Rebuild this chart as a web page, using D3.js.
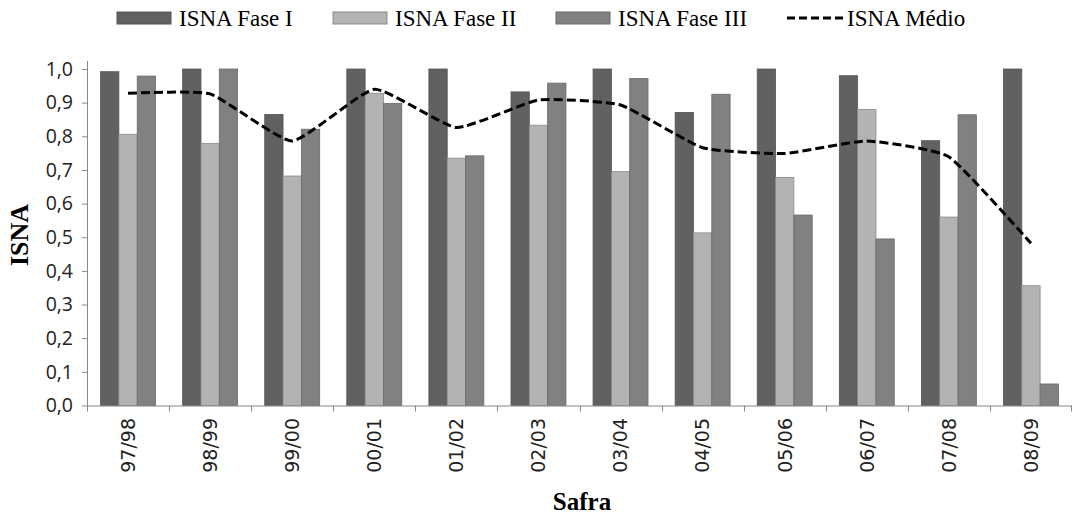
<!DOCTYPE html>
<html>
<head>
<meta charset="utf-8">
<script src="https://cdn.jsdelivr.net/npm/d3@7"></script>
<style>
  body { margin: 0; background: #fff; }
  svg { display: block; }
</style>
</head>
<body>
<svg id="chart" width="1072" height="516"></svg>
<script>
const safras = ['97/98', '98/99', '99/00', '00/01', '01/02', '02/03', '03/04', '04/05', '05/06', '06/07', '07/08', '08/09'];
const faseI = [0.992, 1.0, 0.865, 1.0, 1.0, 0.932, 1.0, 0.871, 1.0, 0.980, 0.787, 1.0];
const faseII = [0.806, 0.779, 0.682, 0.928, 0.735, 0.833, 0.695, 0.513, 0.678, 0.880, 0.560, 0.356];
const faseIII = [0.979, 1.0, 0.821, 0.898, 0.742, 0.958, 0.972, 0.925, 0.566, 0.495, 0.864, 0.064];
const medio = [0.928, 0.926, 0.786, 0.940, 0.826, 0.908, 0.893, 0.766, 0.749, 0.786, 0.739, 0.482];
const yTicks = [0, 0.1, 0.2, 0.3, 0.4, 0.5, 0.6, 0.7, 0.8, 0.9, 1.0];

const series = [
  { name: 'ISNA Fase I', values: faseI, fill: '#616161', stroke: '#555555' },
  { name: 'ISNA Fase II', values: faseII, fill: '#b3b3b3', stroke: '#8a8a8a' },
  { name: 'ISNA Fase III', values: faseIII, fill: '#818181', stroke: '#6a6a6a' }
];

const svg = d3.select('#chart');
const plotLeft = 87, plotRight = 1072, plotTop = 69, plotBottom = 405.5;
const axisColor = '#878787';

const x0 = d3.scaleBand().domain(safras).range([plotLeft, plotRight]);
const x1 = d3.scaleBand().domain(series.map(s => s.name))
  .range([0, x0.bandwidth()]).paddingOuter(0.74);
const y = d3.scaleLinear().domain([0, 1]).range([plotBottom, plotTop]);

// bars
const groups = svg.append('g').selectAll('g.safra').data(safras).join('g')
  .attr('class', 'safra')
  .attr('transform', d => `translate(${x0(d)},0)`);
groups.selectAll('rect')
  .data((d, i) => series.map(s => ({ s, v: s.values[i] })))
  .join('rect')
  .attr('x', d => x1(d.s.name))
  .attr('y', d => y(d.v))
  .attr('width', x1.bandwidth())
  .attr('height', d => y(0) - y(d.v))
  .attr('fill', d => d.s.fill)
  .attr('stroke', d => d.s.stroke)
  .attr('stroke-width', 0.8);

// y axis
const yAxis = svg.append('g')
  .attr('transform', `translate(${plotLeft},0)`)
  .call(d3.axisLeft(y).tickValues(yTicks).tickSize(5).tickPadding(9)
    .tickFormat(d => d3.format('.1f')(d).replace('.', ',')));
yAxis.select('.domain').attr('stroke', axisColor).attr('d', `M0.5,${plotTop - 8}V${plotBottom}`);
yAxis.selectAll('.tick line').attr('stroke', axisColor);
yAxis.selectAll('.tick text')
  .attr('fill', '#222')
  .style('font-family', '"Open Sans", sans-serif')
  .style('font-size', '19.5px');

// x axis
const xAxis = svg.append('g');
xAxis.append('line')
  .attr('x1', plotLeft).attr('x2', plotRight)
  .attr('y1', plotBottom + 0.5).attr('y2', plotBottom + 0.5)
  .attr('stroke', axisColor);
xAxis.selectAll('line.tk').data(safras.concat(['end'])).join('line')
  .attr('class', 'tk')
  .attr('x1', d => d === 'end' ? plotRight - 0.5 : Math.round(x0(d)) + 0.5)
  .attr('x2', d => d === 'end' ? plotRight - 0.5 : Math.round(x0(d)) + 0.5)
  .attr('y1', plotBottom).attr('y2', plotBottom + 6)
  .attr('stroke', axisColor);
xAxis.selectAll('text').data(safras).join('text')
  .attr('transform', d => `translate(${x0(d) + x0.bandwidth() / 2},418) rotate(-90)`)
  .attr('text-anchor', 'end')
  .attr('dy', '0.36em')
  .attr('fill', '#222')
  .style('font-family', '"DejaVu Sans", sans-serif')
  .style('font-size', '19px')
  .text(d => d);

// mean line
const line = d3.line()
  .x((d, i) => x0(safras[i]) + x0.bandwidth() / 2)
  .y(d => y(d))
  .curve(d3.curveCardinal.tension(0.55));
svg.append('path')
  .datum(medio)
  .attr('d', line)
  .attr('fill', 'none')
  .attr('stroke', '#000')
  .attr('stroke-width', 3)
  .attr('stroke-dasharray', '9,4');

// axis titles
svg.append('text')
  .attr('transform', `translate(28,235) rotate(-90)`)
  .attr('text-anchor', 'middle')
  .style('font-family', '"Liberation Serif", serif')
  .style('font-weight', 'bold')
  .style('font-size', '26px')
  .text('ISNA');
svg.append('text')
  .attr('x', 582).attr('y', 510)
  .attr('text-anchor', 'middle')
  .style('font-family', '"Liberation Serif", serif')
  .style('font-weight', 'bold')
  .style('font-size', '25px')
  .text('Safra');

// legend
const legendItems = [
  { name: 'ISNA Fase I', x: 117, s: series[0] },
  { name: 'ISNA Fase II', x: 333, s: series[1] },
  { name: 'ISNA Fase III', x: 556, s: series[2] },
  { name: 'ISNA Médio', x: 787, s: null }
];
const leg = svg.append('g').selectAll('g').data(legendItems).join('g')
  .attr('transform', d => `translate(${d.x},18)`);
leg.filter(d => d.s).append('rect')
  .attr('x', 0).attr('y', -6).attr('width', 54).attr('height', 12)
  .attr('fill', d => d.s.fill).attr('stroke', d => d.s.stroke);
leg.filter(d => !d.s).append('line')
  .attr('x1', 0).attr('x2', 56).attr('y1', 0).attr('y2', 0)
  .attr('stroke', '#000').attr('stroke-width', 3).attr('stroke-dasharray', '8,4');
leg.append('text')
  .attr('x', d => d.s ? 62 : 60)
  .attr('dy', '0.35em')
  .style('font-family', '"Liberation Serif", serif')
  .style('font-size', '23px')
  .text(d => d.name);
</script>
</body>
</html>
